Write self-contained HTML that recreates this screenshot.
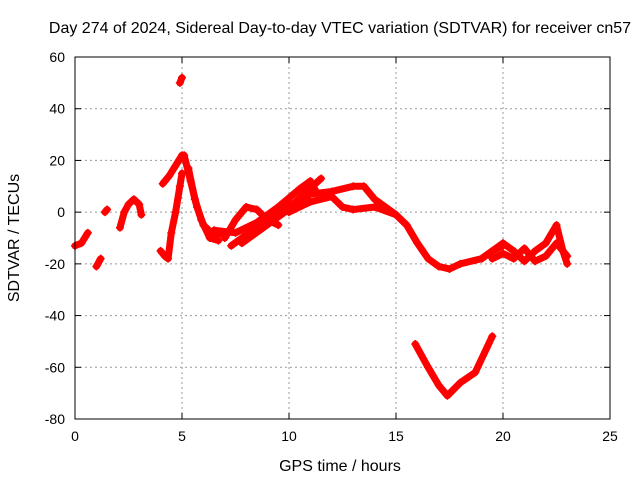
<!DOCTYPE html>
<html><head><meta charset="utf-8"><style>
body{margin:0;background:#fff;}
svg text{font-family:"Liberation Sans",sans-serif;font-size:14px;fill:#000;}
svg text.big{font-size:16px;}
</style></head><body>
<svg id="chart" width="640" height="480">
<text class="big" x="340" y="33" text-anchor="middle">Day 274 of 2024, Sidereal Day-to-day VTEC variation (SDTVAR) for receiver cn57</text>
<text class="big" x="340" y="471" text-anchor="middle">GPS time / hours</text>
<text class="big" x="0" y="0" text-anchor="middle" transform="translate(19,238) rotate(-90)">SDTVAR / TECUs</text>
<g id="grid"></g><g id="marks"></g>
<rect x="75" y="57" width="535" height="362" fill="none" stroke="#000" stroke-width="1"/>
</svg>
<script>
const xTicks=[0,5,10,15,20,25];
const yTicks=[-80,-60,-40,-20,0,20,40,60];
const track1=[[0,-13],[0.3,-12],[0.6,-8]];
const track2=[[1.0,-21],[1.2,-18]];
const track3=[[1.4,0],[1.5,1]];
const track4=[[2.1,-6],[2.3,0],[2.5,3],[2.75,5],[3.0,3],[3.1,-1]];
const track5=[[4.0,-15],[4.2,-17],[4.35,-18],[4.5,-8],[4.7,0],[4.9,10],[5.0,15]];
const track6=[[4.1,11],[4.4,14],[4.7,18],[5.0,22]];
const track7=[[4.9,50],[5.0,52]];
const track8=[[5.1,22],[5.4,12],[5.7,2],[6.0,-5],[6.5,-9],[7.0,-8]];
const track9=[[5.3,17],[5.6,5],[5.9,-3],[6.3,-10],[6.7,-11]];
const track10=[[7.0,-10],[7.5,-3],[8.0,2],[8.5,1],[9.0,-3],[9.5,-5]];
const track11=[[7.3,-13],[8.3,-7],[9.3,-2],[10.3,4],[11.5,13]];
const track12=[[7.8,-12],[8.8,-6],[9.8,0],[10.8,6],[11.2,9]];
const track13=[[6.5,-7],[7.5,-8],[8.5,-4],[9.5,2],[10.5,9],[11.0,12]];
const track14=[[10.0,1],[11.0,7],[12.0,8],[13.0,10],[13.5,10],[14.0,5],[15.0,-1],[15.5,-5],[16.0,-12],[16.5,-18],[17.0,-21],[17.5,-22],[18.0,-20],[19.0,-18],[19.5,-15],[20.0,-13]];
const track15=[[10.0,0],[11.0,4],[12.0,6],[12.5,2],[13.0,1],[14.0,2],[15.0,-1]];
const track16=[[15.9,-51],[16.5,-60],[17.0,-67],[17.4,-71],[18.0,-66],[18.7,-62],[19.5,-48]];
const track17=[[19.0,-18],[19.5,-15],[20.0,-12],[20.5,-15],[21.0,-19],[21.5,-15],[22.0,-12],[22.5,-5],[22.8,-15],[23.0,-20]];
const track18=[[19.5,-18],[20.0,-16],[20.5,-18],[21.0,-14],[21.5,-19],[22.0,-17],[22.5,-12],[23.0,-17]];
const tracks=[track1,track2,track3,track4,track5,track6,track7,track8,track9,track10,track11,track12,track13,track14,track15,track16,track17,track18];
const X0=75,X1=610,Y0=419,Y1=57;
function sx(v){return X0+(v-0)/(25-0)*(X1-X0);}
function sy(v){return Y0-(v+80)/(60+80)*(Y0-Y1);}
const NS="http://www.w3.org/2000/svg";
const grid=document.getElementById('grid'),marks=document.getElementById('marks');
function mk(t,a,p){const e=document.createElementNS(NS,t);for(const k in a)e.setAttribute(k,a[k]);p.appendChild(e);return e;}
xTicks.forEach(t=>{const x=sx(t);
 if(t>0&&t<25){const l=mk('line',{x1:x,x2:x,y1:Y1,y2:Y0,stroke:'#999','stroke-dasharray':'2,3'},grid);
 
 }
 mk('line',{x1:x,x2:x,y1:Y0,y2:Y0-6,stroke:'#000'},grid);
 mk('line',{x1:x,x2:x,y1:Y1,y2:Y1+6,stroke:'#000'},grid);
 const tx=mk('text',{x:x,y:Y0+22,'text-anchor':'middle'},grid);tx.textContent=t;
 
 });
yTicks.forEach(t=>{const y=sy(t);
 if(t>-80&&t<60){const l=mk('line',{x1:X0,x2:X1,y1:y,y2:y,stroke:'#999','stroke-dasharray':'2,3'},grid);
 
 }
 mk('line',{x1:X0,x2:X0+6,y1:y,y2:y,stroke:'#000'},grid);
 mk('line',{x1:X1,x2:X1-6,y1:y,y2:y,stroke:'#000'},grid);
 const tx=mk('text',{x:X0-10,y:y+5,'text-anchor':'end'},grid);tx.textContent=t;
 
 });
tracks.forEach(tr=>{
 const pts=tr.map(p=>sx(p[0])+','+sy(p[1])).join(' ');
 const pl=mk('polyline',{points:pts,fill:'none',stroke:'#f00','stroke-width':7,'stroke-linejoin':'round','stroke-linecap':'round'},marks);
 
 
 tr.forEach(p=>{const x=sx(p[0]),y=sy(p[1]);
  const m=mk('path',{d:`M${x-4},${y}h8M${x},${y-4}v8`,stroke:'#f00','stroke-width':1.5},marks);
  
  });
});
</script>
</body></html>
